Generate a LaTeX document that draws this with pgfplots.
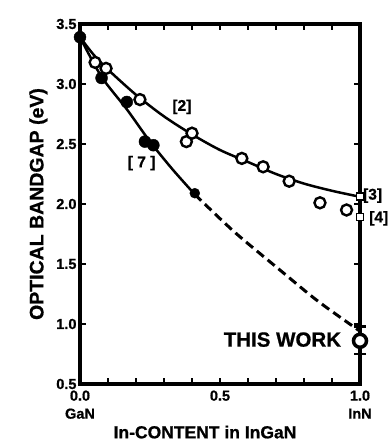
\documentclass[border=0pt]{standalone}
\usepackage{pgfplots}
\pgfplotsset{compat=1.18}
\usepackage{fontspec}
\setmainfont{Liberation Sans}[BoldFeatures={FakeBold=0.8}]
\begin{document}
\begin{tikzpicture}
\begin{axis}[
  scale only axis, width=280pt, height=360pt,
  xmin=0, xmax=1, ymin=0.5, ymax=3.5,
  axis line style={line width=3.2pt},
  every tick/.style={black, line width=1.8pt},
  major tick length=6pt,
  tick align=inside,
  xtick={0,0.1,0.2,0.3,0.4,0.5,0.6,0.7,0.8,0.9,1},
  xticklabels={{0.0\\[1pt]GaN},,,,,{0.5},,,,,{1.0\\[1pt]InN}},
  ytick={0.5,1,1.5,2,2.5,3,3.5},
  /pgf/number format/assume math mode=true,
  tick label style={font=\bfseries\fontsize{14.5}{17}\selectfont},
  yticklabel style={/pgf/number format/.cd,fixed,fixed zerofill,precision=1},
  xticklabel style={align=center, yshift=-3pt},
  xlabel={In-CONTENT in InGaN},
  ylabel={OPTICAL BANDGAP (eV)},
  xlabel style={font=\bfseries\fontsize{17.5}{17.5}\selectfont, xshift=-15pt},
  ylabel style={font=\bfseries\fontsize{19.5}{19.5}\selectfont, yshift=2pt},
  clip=false,
]
% upper curve [2]
\addplot[black, line width=2.5pt, smooth] coordinates {
 (0,3.39) (0.05,3.24) (0.1,3.12) (0.2,2.91) (0.3,2.73) (0.4,2.58)
 (0.5,2.45) (0.6,2.35) (0.7,2.25) (0.8,2.17) (0.9,2.11) (1,2.06)};
% lower curve [7]
\addplot[black, line width=2.5pt, smooth] coordinates {
 (0,3.39) (0.077,3.06) (0.167,2.79) (0.25,2.52) (0.33,2.29) (0.41,2.08)};
% dashed extrapolation
\addplot[black, line width=3pt, dash pattern=on 9pt off 5pt, smooth] coordinates {
 (0.41,2.08) (0.55,1.77) (0.714,1.45) (0.85,1.19) (1,0.94)};
% open circles
\addplot[only marks, mark=*, mark size=5.5pt,
  mark options={draw=black, fill=white, line width=2.4pt}] coordinates {
 (0.054,3.18) (0.093,3.13) (0.214,2.87) (0.38,2.52) (0.40,2.59)
 (0.578,2.38) (0.654,2.31) (0.747,2.19) (0.857,2.01) (0.952,1.95)};
% filled circles
\addplot[only marks, mark=*, mark size=6pt,
  mark options={draw=black, fill=black}] coordinates {
 (0,3.39) (0.077,3.05) (0.167,2.85) (0.232,2.52) (0.262,2.49)};
\addplot[only marks, mark=*, mark size=5pt,
  mark options={draw=black, fill=black}] coordinates {(0.41,2.09)};
% squares [3], [4]
\addplot[only marks, mark=square*, mark size=3.5pt,
  mark options={draw=black, fill=white, line width=1.6pt}] coordinates {
 (1,2.06) (1,1.89)};
% this work
\addplot[only marks, mark=*, mark size=6.5pt,
  mark options={draw=black, fill=white, line width=3.5pt},
  error bars/.cd, y dir=both, y explicit,
  error bar style={line width=2.5pt},
  error mark options={rotate=90, mark size=6pt, line width=2.5pt}] coordinates {
 (1,0.86) += (0,0.12) -= (0,0.11)};
\node[font=\bfseries\fontsize{15.5}{15.5}\selectfont] at (axis cs:0.364,2.81) {[2]};
\node[font=\bfseries\fontsize{15.5}{15.5}\selectfont] at (axis cs:0.22,2.34) {[ 7 ]};
\node[font=\bfseries\fontsize{15.5}{15.5}\selectfont] at (axis cs:1.045,2.07) {[3]};
\node[font=\bfseries\fontsize{15.5}{15.5}\selectfont] at (axis cs:1.067,1.88) {[4]};
\node[font=\bfseries\fontsize{20.5}{20.5}\selectfont, anchor=east] at (axis cs:0.945,0.87) {THIS WORK};
\coordinate (sw) at (rel axis cs:0,0);
\coordinate (ne) at (rel axis cs:1,1);
\end{axis}
\path (sw) ++(-80pt,-59pt);
\path (ne) ++(30pt,24pt);
\end{tikzpicture}
\end{document}
